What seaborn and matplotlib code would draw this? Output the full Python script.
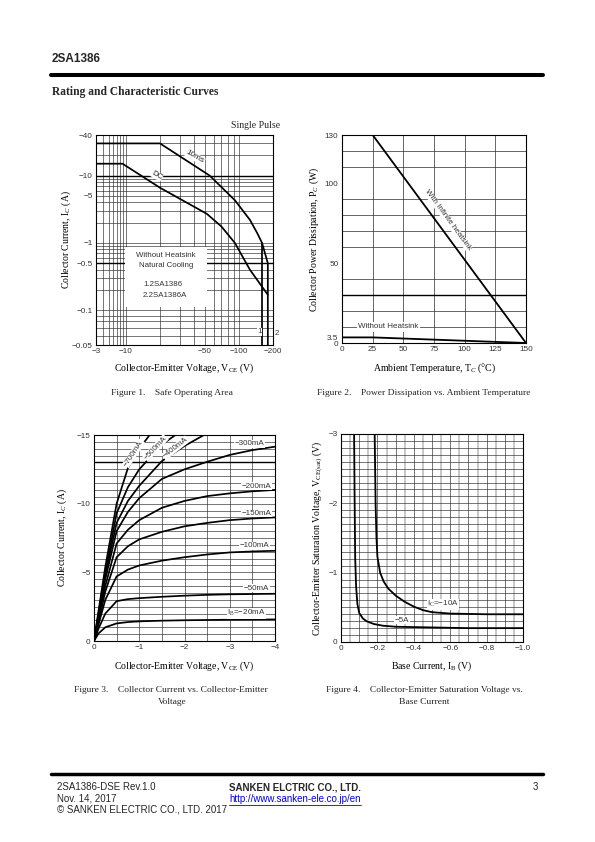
import numpy as np
import pandas as pd
import matplotlib
matplotlib.use("Agg")
import matplotlib.pyplot as plt
from matplotlib.ticker import FixedLocator, FixedFormatter, MultipleLocator, NullFormatter
from matplotlib.lines import Line2D
from matplotlib.patches import Rectangle
import seaborn as sns

# ---------------- data (magnitudes; axes are labelled negative) ----------------
# Figure 1: safe operating area
soa_10ms_vce = [3, 20, 55, 92, 125, 145, 160, 180, 180]
soa_10ms_ic = [30, 30, 10, 4.3, 2.2, 1.4, 1.0, 0.5, 0.05]
soa_dc_vce = [3, 8.7, 20, 52, 70, 92, 125, 180]
soa_dc_ic = [15, 15, 6.6, 2.7, 1.75, 1.0, 0.4, 0.17]
soa_lim1_vce = [160, 160]
soa_lim1_ic = [1.0, 0.05]
soa_xticks = [3, 10, 50, 100, 200]
soa_xlabels = ["\u22123", "\u221210", "\u221250", "\u2212100", "\u2212200"]
soa_yticks = [0.05, 0.1, 0.5, 1, 5, 10, 40]
soa_ylabels = ["\u22120.05", "\u22120.1", "\u22120.5", "\u22121", "\u22125", "\u221210", "\u221240"]

# Figure 2: power dissipation vs ambient temperature
ta_temp = [0, 25, 150]
pc_infinite = [130, 130, 0]
pc_no_sink = [3.5, 3.5, 0]
pd_xticks = [0, 25, 50, 75, 100, 125, 150]
pd_yticks = [0, 3.5, 50, 100, 130]
pd_ylabels = ["0", "3.5", "50", "100", "130"]

# Figure 3: Ic vs Vce
vce_pts = [0, 0.1, 0.25, 0.5, 0.75, 1.0, 1.5, 2.0, 2.5, 3.0, 3.5, 4.0]
ic_ib20 = [0, 0.55, 1.0, 1.28, 1.38, 1.43, 1.48, 1.51, 1.53, 1.55, 1.56, 1.57]
ic_ib50 = [0, 0.9, 2.0, 2.9, 3.05, 3.12, 3.22, 3.3, 3.36, 3.4, 3.42, 3.44]
ic_ib100 = [0, 1.2, 3.0, 4.7, 5.2, 5.5, 5.85, 6.1, 6.3, 6.45, 6.52, 6.57]
ic_ib150 = [0, 1.4, 3.6, 6.1, 6.9, 7.4, 7.95, 8.35, 8.6, 8.8, 8.92, 9.0]
ic_ib200 = [0, 1.6, 4.0, 7.1, 8.1, 8.8, 9.7, 10.2, 10.55, 10.75, 10.9, 11.0]
ic_ib300 = [0, 1.8, 4.5, 8.0, 9.4, 10.4, 11.8, 12.5, 13.05, 13.55, 13.9, 14.15]
vce_ib400 = [0, 0.1, 0.25, 0.5, 0.75, 1.0, 1.5, 2.0, 2.43]
ic_ib400 = [0, 1.9, 4.8, 8.6, 10.2, 11.3, 13.1, 14.2, 15.0]
vce_ib500 = [0, 0.1, 0.25, 0.5, 0.75, 1.0, 1.5, 1.8]
ic_ib500 = [0, 2.0, 5.0, 9.3, 11.2, 12.5, 14.3, 15.0]
vce_ib700 = [0, 0.1, 0.25, 0.5, 0.75, 1.0, 1.23]
ic_ib700 = [0, 2.2, 5.4, 10.0, 12.6, 14.0, 15.0]
ic_xlabels = ["0", "\u22121", "\u22122", "\u22123", "\u22124"]
ic_ylabels = ["0", "\u22125", "\u221210", "\u221215"]

# Figure 4: Vce(sat) vs Ib
ib_ic5 = [0.072, 0.075, 0.078, 0.083, 0.09, 0.1, 0.12, 0.14, 0.18, 0.23, 0.3, 0.5, 0.7, 1.0]
vsat_ic5 = [3.0, 2.0, 1.2, 0.8, 0.55, 0.42, 0.34, 0.3, 0.26, 0.235, 0.22, 0.21, 0.2, 0.2]
ib_ic10 = [0.185, 0.19, 0.195, 0.2, 0.215, 0.235, 0.26, 0.3, 0.35, 0.4, 0.45, 0.5, 0.6, 0.8, 1.0]
vsat_ic10 = [3.0, 2.0, 1.5, 1.23, 1.0, 0.87, 0.77, 0.67, 0.58, 0.51, 0.46, 0.43, 0.41, 0.4, 0.4]
vs_xticks = [0, 0.2, 0.4, 0.6, 0.8, 1.0]
vs_xlabels = ["0", "\u22120.2", "\u22120.4", "\u22120.6", "\u22120.8", "\u22121.0"]
vs_yticks = [0, 1, 2, 3]
vs_ylabels = ["0", "\u22121", "\u22122", "\u22123"]

# ---------------- styling ----------------
sns.set_theme(style="white")
plt.rcParams["font.family"] = ["Liberation Sans", "DejaVu Sans"]
plt.rcParams["mathtext.fontset"] = "custom"
plt.rcParams["mathtext.rm"] = "Liberation Serif"
plt.rcParams["mathtext.it"] = "Liberation Serif:italic"
plt.rcParams["mathtext.bf"] = "Liberation Serif:bold"

W, H = 595, 842
fig = plt.figure(figsize=(W / 100, H / 100), dpi=100)
fig.patch.set_facecolor("white")

SERIF = ["Liberation Serif", "DejaVu Serif"]
GRID = "#2a2a2a"
TICKC = "#333333"


def add_axes(l, t, r, b):
    return fig.add_axes([l / W, 1 - b / H, (r - l) / W, (b - t) / H])


def ftext(x, y, s, **kw):
    kw.setdefault("va", "center")
    return fig.text(x / W, 1 - y / H, s, **kw)


def draw_curves(ax, curves, lw=1.25):
    frames = [pd.DataFrame({"x": x, "y": y, "curve": name}) for name, (x, y) in curves.items()]
    df = pd.concat(frames, ignore_index=True)
    sns.lineplot(data=df, x="x", y="y", units="curve", estimator=None, sort=False,
                 color="black", lw=lw, ax=ax, legend=False, zorder=4)
    ax.set_xlabel("")
    ax.set_ylabel("")


def style_axes(ax):
    ax.set_facecolor("white")
    for s in ax.spines.values():
        s.set_visible(True)
        s.set_color("black")
        s.set_linewidth(0.8)
    ax.tick_params(which="both", length=0, labelsize=5.9, colors=TICKC, pad=2.5)
    ax.set_axisbelow(True)


def labels(ax, xl, yl, xy_x, xy_y):
    ax.set_xlabel(xl, fontfamily=SERIF, fontsize=7, color="black")
    ax.set_ylabel(yl, fontfamily=SERIF, fontsize=7, color="black")
    ax.xaxis.set_label_coords(0.5, xy_x)
    ax.yaxis.set_label_coords(xy_y, 0.5)
    ax.xaxis.label.set_va("center")
    ax.yaxis.label.set_va("center")


# ---------------- Figure 1 ----------------
KX = 0.507
KY = 1.71


def fx(v):
    L = np.log10(np.clip(np.asarray(v, float), 1e-9, None))
    return np.where(L >= 1, L, 1 - (1 - L) * KX)


def ix(p):
    p = np.asarray(p, float)
    return np.where(p >= 1, 10.0 ** p, 10.0 ** (1 - (1 - p) / KX))


def fy(v):
    L = np.log10(np.clip(np.asarray(v, float), 1e-9, None))
    return np.where(L >= -1, L, -1 - (-1 - L) * KY)


def iy(p):
    p = np.asarray(p, float)
    return np.where(p >= -1, 10.0 ** p, 10.0 ** (-1 - (-1 - p) / KY))


ax1 = add_axes(96, 135, 273, 345)
draw_curves(ax1, {"10ms": (soa_10ms_vce, soa_10ms_ic),
                  "DC": (soa_dc_vce, soa_dc_ic),
                  "lim1": (soa_lim1_vce, soa_lim1_ic)})
ax1.set_xscale("function", functions=(fx, ix))
ax1.set_yscale("function", functions=(fy, iy))
ax1.set_xlim(3, 200)
ax1.set_ylim(0.05, 40)
style_axes(ax1)
ax1.xaxis.set_major_locator(FixedLocator(soa_xticks))
ax1.xaxis.set_major_formatter(FixedFormatter(soa_xlabels))
ax1.xaxis.set_minor_locator(FixedLocator([4, 5, 6, 7, 8, 9, 20, 30, 40, 60, 70, 80, 90]))
ax1.xaxis.set_minor_formatter(NullFormatter())
ax1.yaxis.set_major_locator(FixedLocator(soa_yticks))
ax1.yaxis.set_major_formatter(FixedFormatter(soa_ylabels))
ax1.yaxis.set_minor_locator(FixedLocator([0.06, 0.07, 0.08, 0.09, 0.2, 0.3, 0.4, 0.6, 0.7, 0.8, 0.9,
                                          2, 3, 4, 6, 7, 8, 9, 20, 30]))
ax1.yaxis.set_minor_formatter(NullFormatter())
ax1.grid(which="both", color=GRID, lw=0.45)
ax1.axhline(10, color="black", lw=1.0, zorder=1)
ax1.axhline(0.5, color="black", lw=1.0, zorder=1)
ax1.add_patch(Rectangle((0.164, 0.181), 0.463, 0.286, transform=ax1.transAxes,
                        facecolor="white", edgecolor="none", zorder=3))
tk = dict(fontsize=5.7, color="#333333", zorder=5)
ax1.text(0.395, 0.425, "Without Heatsink", transform=ax1.transAxes, ha="center", va="center", **tk)
ax1.text(0.395, 0.377, "Natural Cooling", transform=ax1.transAxes, ha="center", va="center", **tk)
ax1.text(0.266, 0.286, "1.2SA1386", transform=ax1.transAxes, ha="left", va="center", **tk)
ax1.text(0.266, 0.238, "2.2SA1386A", transform=ax1.transAxes, ha="left", va="center", **tk)
ax1.text(40.8, 18.8, "10ms", rotation=-30, ha="center", va="center", fontsize=5.9,
         color="#222222", zorder=5, bbox=dict(fc="white", ec="none", pad=0.3))
ax1.text(18.7, 10.1, "DC", rotation=-30, ha="center", va="center", fontsize=5.9,
         color="#222222", zorder=5, bbox=dict(fc="white", ec="none", pad=0.3))
ax1.text(152, 0.065, "1", ha="center", va="center", fontsize=5.7, color="#333333", zorder=5,
         bbox=dict(fc="white", ec="none", pad=0.3))
ax1.text(1.01, 0.055, "2", transform=ax1.transAxes, ha="left", va="center", fontsize=5.7,
         color="#333333", clip_on=False)
labels(ax1, "Collector-Emitter Voltage, V$_{\\mathrm{CE}}$ (V)", "Collector Current, I$_C$ (A)",
       -(368 - 345) / 210, -(96 - 66) / 177)
ftext(280, 125, "Single Pulse", ha="right", fontfamily=SERIF, fontsize=7)

# ---------------- Figure 2 ----------------
ax2 = add_axes(342, 135, 526, 343)
draw_curves(ax2, {"inf": (ta_temp, pc_infinite), "none": (ta_temp, pc_no_sink)}, lw=1.3)
ax2.set_xlim(0, 150)
ax2.set_ylim(0, 130)
style_axes(ax2)
ax2.xaxis.set_major_locator(FixedLocator(pd_xticks))
ax2.yaxis.set_major_locator(FixedLocator(pd_yticks))
ax2.yaxis.set_major_formatter(FixedFormatter(pd_ylabels))
ax2.yaxis.set_minor_locator(MultipleLocator(10))
ax2.grid(which="major", axis="x", color=GRID, lw=0.5)
ax2.grid(which="minor", axis="y", color=GRID, lw=0.5)
ax2.axhline(30, color="black", lw=1.0, zorder=1)
ax2.text(86, 77, "With Infinite heatsink", rotation=-53.8, ha="center", va="center",
         fontsize=5.8, color="#333333", zorder=5, bbox=dict(fc="white", ec="none", pad=0.2))
ax2.text(38, 10, "Without Heatsink", ha="center", va="center", fontsize=5.8, color="#333333",
         zorder=5, bbox=dict(fc="white", ec="none", pad=0.8))
labels(ax2, "Ambient Temperature, T$_C$ (\u00b0C)", "Collector Power Dissipation, P$_C$ (W)",
       -(368 - 343) / 208, -(342 - 314) / 184)

# ---------------- Figure 3 ----------------
ax3 = add_axes(94, 435, 275, 641)
draw_curves(ax3, {"20": (vce_pts, ic_ib20), "50": (vce_pts, ic_ib50), "100": (vce_pts, ic_ib100),
                  "150": (vce_pts, ic_ib150), "200": (vce_pts, ic_ib200), "300": (vce_pts, ic_ib300),
                  "400": (vce_ib400, ic_ib400), "500": (vce_ib500, ic_ib500),
                  "700": (vce_ib700, ic_ib700)})
ax3.set_xlim(0, 4)
ax3.set_ylim(0, 15)
style_axes(ax3)
ax3.xaxis.set_major_locator(FixedLocator([0, 1, 2, 3, 4]))
ax3.xaxis.set_major_formatter(FixedFormatter(ic_xlabels))
ax3.xaxis.set_minor_locator(MultipleLocator(0.5))
ax3.yaxis.set_major_locator(FixedLocator([0, 5, 10, 15]))
ax3.yaxis.set_major_formatter(FixedFormatter(ic_ylabels))
ax3.yaxis.set_minor_locator(MultipleLocator(0.5))
ax3.grid(which="both", color=GRID, lw=0.45)
ax3.axhline(13, color="black", lw=1.0, zorder=1)
lab3 = dict(ha="center", va="center", fontsize=5.8, color="#333333", zorder=5,
            bbox=dict(fc="white", ec="none", pad=0.3))
ax3.text(0.877, 13.67, "\u2212700mA", rotation=57, **lab3)
ax3.text(1.36, 14.06, "\u2212500mA", rotation=47, **lab3)
ax3.text(1.80, 14.06, "\u2212400mA", rotation=38, **lab3)
ax3.text(3.44, 14.35, "\u2212300mA", **lab3)
ax3.text(3.59, 11.26, "\u2212200mA", **lab3)
ax3.text(3.59, 9.28, "\u2212150mA", **lab3)
ax3.text(3.55, 6.93, "\u2212100mA", **lab3)
ax3.text(3.59, 3.84, "\u221250mA", **lab3)
ax3.text(3.37, 2.03, "I$_{\\mathrm{B}}$=\u221220mA", **lab3)
labels(ax3, "Collector-Emitter Voltage, V$_{\\mathrm{CE}}$ (V)", "Collector Current, I$_C$ (A)",
       -(666 - 641) / 206, -(94 - 62) / 181)

# ---------------- Figure 4 ----------------
ax4 = add_axes(341, 434, 523, 642)
draw_curves(ax4, {"5A": (ib_ic5, vsat_ic5), "10A": (ib_ic10, vsat_ic10)}, lw=1.3)
ax4.set_xlim(0, 1.0)
ax4.set_ylim(0, 3)
style_axes(ax4)
ax4.xaxis.set_major_locator(FixedLocator(vs_xticks))
ax4.xaxis.set_major_formatter(FixedFormatter(vs_xlabels))
ax4.xaxis.set_minor_locator(MultipleLocator(0.1))
ax4.yaxis.set_major_locator(FixedLocator(vs_yticks))
ax4.yaxis.set_major_formatter(FixedFormatter(vs_ylabels))
ax4.yaxis.set_minor_locator(MultipleLocator(0.1))
ax4.grid(which="both", color=GRID, lw=0.45)
for xv in np.arange(0.05, 1.0, 0.1):
    ax4.axvline(xv, color="#c8c8c8", lw=1.4, zorder=0.4)
lab4 = dict(ha="center", va="center", fontsize=5.8, color="#333333", zorder=5,
            bbox=dict(fc="white", ec="none", pad=0.3))
ax4.text(0.561, 0.548, "I$_{\\mathrm{C}}$=\u221210A", **lab4)
ax4.text(0.335, 0.317, "\u22125A", **lab4)
labels(ax4, "Base Current, I$_{\\mathrm{B}}$ (V)",
       "Collector-Emitter Saturation Voltage, V$_{\\mathrm{CE(sat)}}$ (V)",
       -(666 - 642) / 208, -(341 - 318) / 182)

# ---------------- captions ----------------
cap = dict(ha="center", fontfamily=SERIF, fontsize=6.8)
ftext(172, 393, "Figure 1.    Safe Operating Area", **cap)
ftext(424, 393, "Figure 2.    Power Dissipation vs. Ambient Temperature", **cap)
ftext(171, 690, "Figure 3.    Collector Current vs. Collector-Emitter", **cap)
ftext(172, 702, "Voltage", **cap)
ftext(424, 690, "Figure 4.    Collector-Emitter Saturation Voltage vs.", **cap)
ftext(424, 702, "Base Current", **cap)

# ---------------- header / footer ----------------
ftext(52, 58.5, "2SA1386", ha="left", fontsize=8.5, fontweight="bold")
fig.add_artist(Line2D([51 / W, 543 / W], [1 - 75.3 / H, 1 - 75.3 / H], color="black", lw=2.9))
ftext(52, 92, "Rating and Characteristic Curves", ha="left", fontfamily=SERIF,
      fontsize=8.3, fontweight="bold")

fig.add_artist(Line2D([51 / W, 543 / W], [1 - 774 / H, 1 - 774 / H], color="black", lw=2.5))
ft = dict(ha="left", fontsize=7)
ftext(57, 787, "2SA1386-DSE Rev.1.0", **ft)
ftext(57, 798.5, "Nov. 14, 2017", **ft)
ftext(57, 810, "\u00a9 SANKEN ELECTRIC CO., LTD. 2017", **ft)
ftext(229, 787, "SANKEN ELCTRIC CO., LTD.", ha="left", fontsize=7, fontweight="bold")
url = ftext(229, 798.5, "http://www.sanken-ele.co.jp/en", ha="left", fontsize=7, color="#0000ee")
fig.canvas.draw()
bb = url.get_window_extent(renderer=fig.canvas.get_renderer())
fig.add_artist(Line2D([bb.x0 / W, bb.x1 / W], [1 - 804.5 / H, 1 - 804.5 / H],
                      color="#0000ee", lw=0.6))
ftext(538, 787, "3", ha="right", fontsize=7)

fig.savefig("out.png", dpi=100, facecolor="white")
